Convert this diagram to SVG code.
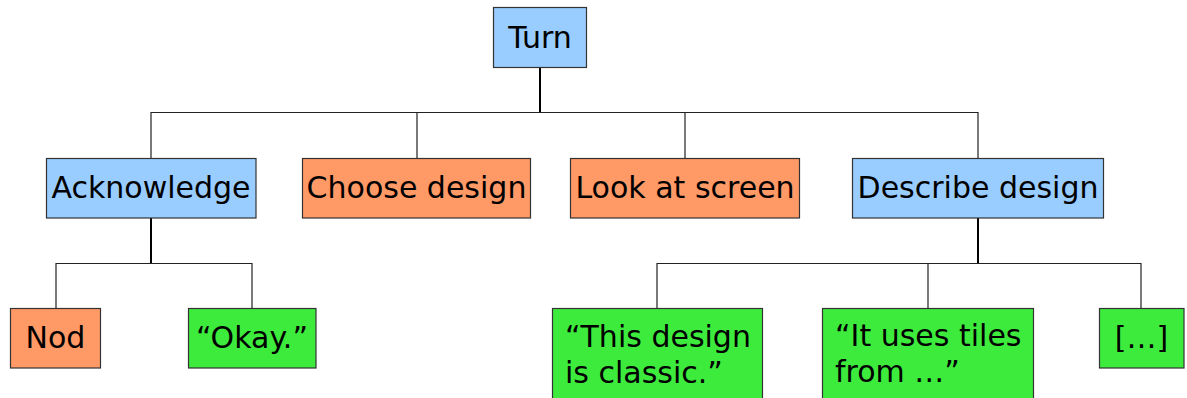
<svg xmlns="http://www.w3.org/2000/svg" width="1187" height="398" viewBox="0 0 1187 398">
  <style>
    .box { stroke: #333; stroke-width: 1.2; }
    .blue { fill: #99ccff; }
    .orange { fill: #ff9966; }
    .green { fill: #3deb3d; }
    text { font-family: "DejaVu Sans", sans-serif; font-size: 30px; fill: #000; }
    .c { text-anchor: middle; }
    .trunk { stroke: #000; stroke-width: 2; fill: none; }
    .branch { stroke: #222; stroke-width: 1.2; fill: none; }
  </style>
  <rect width="1187" height="398" fill="#fff"/>

  <g id="connectors">
    <!-- Turn to its four children -->
    <path class="trunk" d="M540,67 V112.5"/>
    <path class="branch" d="M151,158 V112.5 H978 V158 M417,112.5 V158 M685,112.5 V158"/>
    <!-- Acknowledge to its children -->
    <path class="trunk" d="M151,218 V263.5"/>
    <path class="branch" d="M56,308 V263.5 H252 V308"/>
    <!-- Describe design to its children -->
    <path class="trunk" d="M978,218 V263.5"/>
    <path class="branch" d="M657,308 V263.5 H1141 V308 M928,263.5 V308"/>
  </g>

  <g id="turn">
    <rect class="box blue" x="493.5" y="7.5" width="93" height="60"/>
    <text class="c" x="540" y="48">Turn</text>
  </g>
  <g id="acknowledge">
    <rect class="box blue" x="46.5" y="158.5" width="209.5" height="59.5"/>
    <text class="c" x="151" y="198">Acknowledge</text>
  </g>
  <g id="choose-design">
    <rect class="box orange" x="302.5" y="158.5" width="228" height="59.5"/>
    <text class="c" x="416.5" y="198">Choose design</text>
  </g>
  <g id="look-at-screen">
    <rect class="box orange" x="570.5" y="158.5" width="229" height="59.5"/>
    <text class="c" x="685" y="198">Look at screen</text>
  </g>
  <g id="describe-design">
    <rect class="box blue" x="852.5" y="158.5" width="251" height="59.5"/>
    <text class="c" x="978" y="198">Describe design</text>
  </g>
  <g id="nod">
    <rect class="box orange" x="10.5" y="308.5" width="90" height="59.5"/>
    <text class="c" x="55.5" y="348">Nod</text>
  </g>
  <g id="okay">
    <rect class="box green" x="188.5" y="308.5" width="127.5" height="59.5"/>
    <text class="c" x="252" y="348">“Okay.”</text>
  </g>
  <g id="this-design">
    <rect class="box green" x="552.5" y="308.5" width="210" height="100"/>
    <text x="565" y="347">“This design</text>
    <text x="565" y="383">is classic.”</text>
  </g>
  <g id="uses-tiles">
    <rect class="box green" x="822.5" y="308.5" width="211" height="100"/>
    <text x="835" y="346">“It uses tiles</text>
    <text x="835" y="382">from …”</text>
  </g>
  <g id="more">
    <rect class="box green" x="1099.5" y="308.5" width="84.5" height="59.5"/>
    <text class="c" x="1141.5" y="348">[…]</text>
  </g>
</svg>
